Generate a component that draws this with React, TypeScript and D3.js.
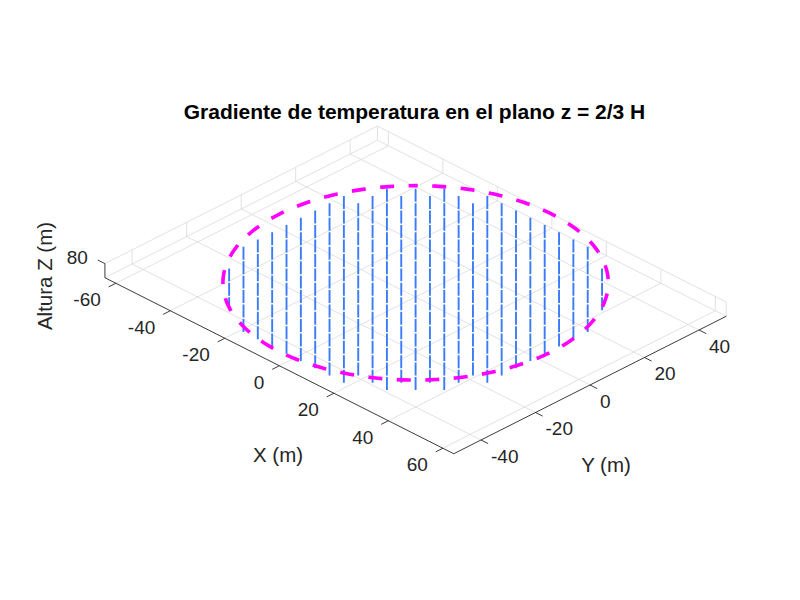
import React from "react";
import * as d3 from "d3";

// grid used by the quiver (linspace(-50, 50, 20))
const GRID = [
  -50, -44.74, -39.47, -34.21, -28.95, -23.68, -18.42, -13.16, -7.89, -2.63,
  2.63, 7.89, 13.16, 18.42, 23.68, 28.95, 34.21, 39.47, 44.74, 50,
];
const RADIUS = 50;
const Z_PLANE = 80;
const GRAD_DZ = -3.9; // scaled vertical component of each arrow

const X_TICKS = [-60, -40, -20, 0, 20, 40, 60];
const Y_TICKS = [-40, -20, 0, 20, 40];
const Z_TICKS = [80];
const X_LIM: [number, number] = [-64, 64];
const Y_LIM: [number, number] = [-50, 50];
const Z_LIM: [number, number] = [75.75, 80];

const TITLE = "Gradiente de temperatura en el plano z = 2/3 H";
const FONT = "'Liberation Sans', Arial, Helvetica, sans-serif";

const W = 800;
const H = 600;
const S = 3.854; // px per data unit
const AZ = Math.PI / 4;
const EL = (30.3 * Math.PI) / 180;
const CX = 415.6;
const CY = 297;

const sx = d3.scaleLinear().domain(X_LIM).range([X_LIM[0] * S, X_LIM[1] * S]);
const sy = d3.scaleLinear().domain(Y_LIM).range([Y_LIM[0] * S, Y_LIM[1] * S]);
const sz = d3.scaleLinear().domain(Z_LIM).range([0, (Z_LIM[1] - Z_LIM[0]) * S]);

function proj(x: number, y: number, z: number): [number, number] {
  const a = sx(x);
  const b = sy(y);
  const h = a * Math.cos(AZ) + b * Math.sin(AZ);
  const d = a * Math.sin(AZ) - b * Math.cos(AZ);
  return [CX + h, CY + d * Math.sin(EL) - sz(z) * Math.cos(EL)];
}

function seg(p: [number, number], q: [number, number]) {
  return `M${p[0]},${p[1]}L${q[0]},${q[1]}`;
}

const GRID_COLOR = "#dedede";
const AXIS_COLOR = "#262626";

export default function App() {
  const [x0, x1] = X_LIM;
  const [y0, y1] = Y_LIM;
  const [z0, z1] = Z_LIM;

  // grid lines on floor and back walls
  const gridPaths: string[] = [];
  X_TICKS.forEach((x) => {
    gridPaths.push(seg(proj(x, y0, z0), proj(x, y1, z0)));
    gridPaths.push(seg(proj(x, y1, z0), proj(x, y1, z1)));
  });
  Y_TICKS.forEach((y) => {
    gridPaths.push(seg(proj(x0, y, z0), proj(x1, y, z0)));
    gridPaths.push(seg(proj(x0, y, z0), proj(x0, y, z1)));
  });
  Z_TICKS.forEach((z) => {
    gridPaths.push(seg(proj(x0, y0, z), proj(x0, y1, z)));
    gridPaths.push(seg(proj(x0, y1, z), proj(x1, y1, z)));
  });
  gridPaths.push(seg(proj(x0, y0, z0), proj(x0, y1, z0)));
  gridPaths.push(seg(proj(x0, y1, z0), proj(x1, y1, z0)));
  gridPaths.push(seg(proj(x0, y1, z0), proj(x0, y1, z1)));
  gridPaths.push(seg(proj(x1, y1, z0), proj(x1, y1, z1)));

  // arrows
  const arrows: string[] = [];
  GRID.forEach((x) =>
    GRID.forEach((y) => {
      if (x * x + y * y <= RADIUS * RADIUS) {
        arrows.push(seg(proj(x, y, Z_PLANE), proj(x, y, Z_PLANE + GRAD_DZ)));
      }
    })
  );

  // boundary circle, started at its top point on screen
  const circle = d3
    .line<number>()
    .x((t) => proj(RADIUS * Math.cos(t), RADIUS * Math.sin(t), Z_PLANE)[0])
    .y((t) => proj(RADIUS * Math.cos(t), RADIUS * Math.sin(t), Z_PLANE)[1])(
    d3.range(135, 496, 2).map((deg) => (deg * Math.PI) / 180)
  );

  const ux = [Math.cos(AZ), Math.sin(AZ) * Math.sin(EL)];
  const uy = [Math.sin(AZ), -Math.cos(AZ) * Math.sin(EL)];
  const nx = Math.hypot(ux[0], ux[1]);
  const ny = Math.hypot(uy[0], uy[1]);
  const TL = 8;

  return (
    <svg
      width={W}
      height={H}
      style={{ position: "absolute", left: 0, top: 0, background: "#fff" }}
      fontFamily={FONT}
    >
      <rect width={W} height={H} fill="#fff" />
      <path d={gridPaths.join("")} stroke={GRID_COLOR} strokeWidth={0.9} fill="none" />

      {/* axes */}
      <path
        d={
          seg(proj(x0, y0, z0), proj(x1, y0, z0)) +
          seg(proj(x1, y0, z0), proj(x1, y1, z0)) +
          seg(proj(x0, y0, z0), proj(x0, y0, z1))
        }
        stroke={AXIS_COLOR}
        strokeWidth={0.9}
        fill="none"
      />
      {X_TICKS.map((x) => {
        const p = proj(x, y0, z0);
        return (
          <g key={`xt${x}`}>
            <line
              x1={p[0]}
              y1={p[1]}
              x2={p[0] - (uy[0] / ny) * TL}
              y2={p[1] - (uy[1] / ny) * TL}
              stroke={AXIS_COLOR}
              strokeWidth={0.9}
            />
            <text
              x={p[0] - 15}
              y={p[1] + 18}
              textAnchor="end"
              dominantBaseline="middle"
              fontSize={19}
              fill={AXIS_COLOR}
            >
              {x}
            </text>
          </g>
        );
      })}
      {Y_TICKS.map((y) => {
        const p = proj(x1, y, z0);
        return (
          <g key={`yt${y}`}>
            <line
              x1={p[0]}
              y1={p[1]}
              x2={p[0] + (ux[0] / nx) * TL}
              y2={p[1] + (ux[1] / nx) * TL}
              stroke={AXIS_COLOR}
              strokeWidth={0.9}
            />
            <text
              x={p[0] + 10}
              y={p[1] + 17.5}
              textAnchor="start"
              dominantBaseline="middle"
              fontSize={19}
              fill={AXIS_COLOR}
            >
              {y}
            </text>
          </g>
        );
      })}
      {Z_TICKS.map((z) => {
        const p = proj(x0, y0, z);
        return (
          <g key={`zt${z}`}>
            <line
              x1={p[0]}
              y1={p[1]}
              x2={p[0] - (ux[0] / nx) * TL}
              y2={p[1] - (ux[1] / nx) * TL}
              stroke={AXIS_COLOR}
              strokeWidth={0.9}
            />
            <text
              x={p[0] - 17}
              y={p[1] - 5}
              textAnchor="end"
              dominantBaseline="middle"
              fontSize={19}
              fill={AXIS_COLOR}
            >
              {z}
            </text>
          </g>
        );
      })}

      {/* quiver */}
      <path d={arrows.join("")} stroke="#3a7bfa" strokeWidth={1.9} fill="none" />

      {/* circle */}
      <path
        d={circle ?? ""}
        stroke="#ff00ff"
        strokeWidth={3.6}
        strokeDasharray="14 14.5"
        strokeDashoffset={7}
        fill="none"
      />

      {/* labels */}
      <text x={278} y={457} textAnchor="middle" dominantBaseline="middle" fontSize={20.5} fill={AXIS_COLOR}>
        X (m)
      </text>
      <text x={606} y={467} textAnchor="middle" dominantBaseline="middle" fontSize={20.5} fill={AXIS_COLOR}>
        Y (m)
      </text>
      <text
        transform="translate(47,276) rotate(-90)"
        textAnchor="middle"
        dominantBaseline="middle"
        fontSize={20.5}
        fill={AXIS_COLOR}
      >
        Altura Z (m)
      </text>
      <text x={414.5} y={113} textAnchor="middle" dominantBaseline="middle" fontSize={21} fontWeight="bold" fill="#000">
        {TITLE}
      </text>
    </svg>
  );
}
